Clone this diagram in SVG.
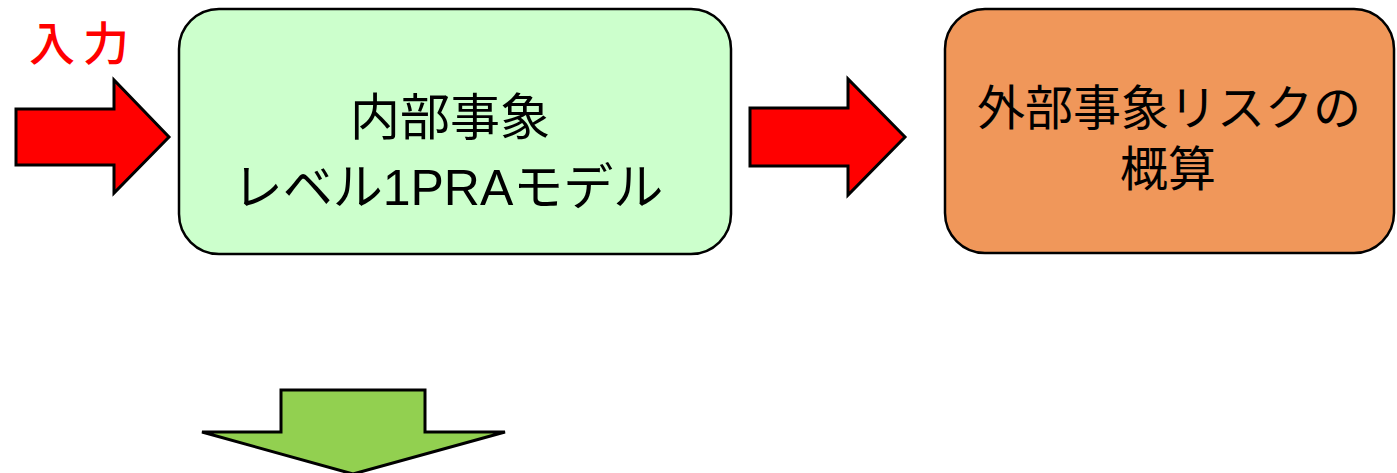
<svg xmlns="http://www.w3.org/2000/svg" width="1397" height="473" viewBox="0 0 1397 473">
<style>
.box{stroke:#000;stroke-width:2.5}
.arrow{stroke:#000;stroke-width:3;stroke-linejoin:miter}
.t{font-family:"Liberation Sans","Noto Sans CJK JP",sans-serif;fill:#000;text-anchor:middle}
</style>
<rect width="1397" height="473" fill="#fff"/>
<g id="input-label">
<text x="29" y="60" font-family="'Noto Sans CJK JP',sans-serif" font-size="46" font-weight="500" fill="#ff0000" letter-spacing="8">入力</text>
</g>
<g id="connectors">
<polygon class="arrow" fill="#ff0000" points="16,109 114,109 114,80 169,137 114,193 114,165 16,165"/>
<polygon class="arrow" fill="#ff0000" points="750,108 848,108 848,79 905,137 848,195 848,166 750,166"/>
<polygon class="arrow" fill="#92d050" points="281,390 425,390 425,432 505,432 353,474 202,432 281,432"/>
</g>
<g id="internal-model">
<rect class="box" x="179" y="9" width="552" height="245" rx="40" fill="#ccffcc"/>
<text class="t" font-size="50" x="450" y="135">内部事象</text>
<text class="t" font-size="50" x="448" y="205">レベル1PRAモデル</text>
</g>
<g id="external-risk">
<rect class="box" x="945" y="9" width="449" height="244" rx="40" fill="#f0975a"/>
<text class="t" font-size="48" x="1169" y="125">外部事象リスクの</text>
<text class="t" font-size="48" x="1168" y="186">概算</text>
</g>
</svg>
